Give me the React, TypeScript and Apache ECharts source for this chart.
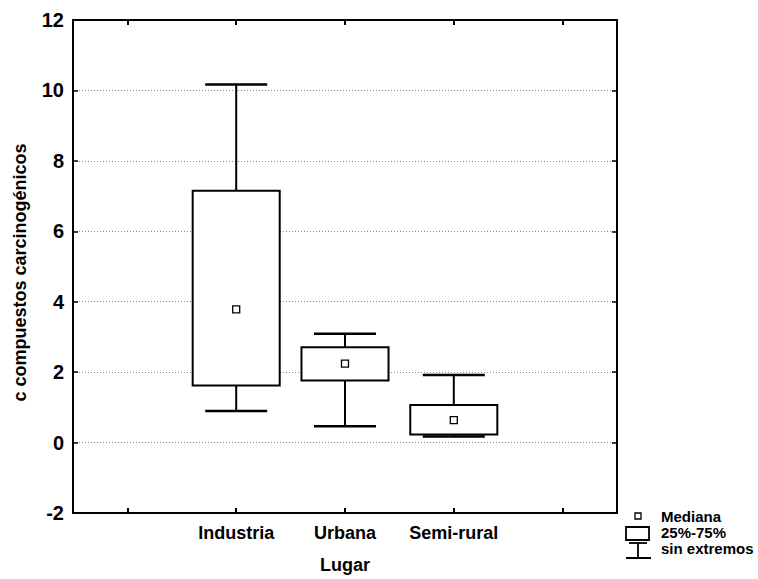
import React, { useEffect, useRef } from "react";
import * as echarts from "echarts";

// Sampling sites and box statistics (min, Q1, median, Q3, max)
const sites = ["Industria", "Urbana", "Semi-rural"];
const whiskerLow = [0.9, 0.46, 0.17];
const quartile1 = [1.62, 1.76, 0.23];
const medians = [3.78, 2.24, 0.64];
const quartile3 = [7.15, 2.71, 1.07];
const whiskerHigh = [10.17, 3.09, 1.92];

// The category axis has an empty slot on each side of the sites
const axisCategories = ["", ...sites, ""];
const yTicks = { min: -2, max: 12, step: 2 };

const legendLabels = ["Mediana", "25%-75%", "sin extremos"];

const FONT = '"Liberation Sans", Arial, Helvetica, sans-serif';

export default function App() {
  const ref = useRef<HTMLDivElement>(null);

  useEffect(() => {
    if (!ref.current) return;
    const chart = echarts.init(ref.current, null, { renderer: "svg" });

    const boxData = sites.map((s, i) => [
      axisCategories.indexOf(s),
      whiskerLow[i],
      quartile1[i],
      medians[i],
      quartile3[i],
      whiskerHigh[i],
    ]);

    const stroke = { stroke: "#000", lineWidth: 2, fill: "none" };

    const option: any = {
      animation: false,
      backgroundColor: "#fff",
      textStyle: { fontFamily: FONT },
      grid: { left: 73, top: 20, right: 141, bottom: 60, containLabel: false },
      xAxis: [
        {
          type: "category",
          data: axisCategories,
          boundaryGap: true,
          name: "Lugar",
          nameLocation: "middle",
          nameGap: 43,
          nameTextStyle: { fontFamily: FONT, fontSize: 18, fontWeight: "bold", color: "#000" },
          axisLine: { show: true, onZero: false, lineStyle: { color: "#000", width: 2 } },
          axisTick: { show: true, inside: true, alignWithLabel: true, length: 5, lineStyle: { color: "#000", width: 2 } },
          axisLabel: { show: true, interval: 0, margin: 11, fontFamily: FONT, fontSize: 18, fontWeight: "bold", color: "#000" },
          splitLine: { show: false },
        },
        {
          type: "category",
          data: axisCategories,
          position: "top",
          boundaryGap: true,
          axisLine: { show: true, onZero: false, lineStyle: { color: "#000", width: 2 } },
          axisTick: { show: true, inside: true, alignWithLabel: true, length: 5, lineStyle: { color: "#000", width: 2 } },
          axisLabel: { show: false },
          splitLine: { show: false },
        },
      ],
      yAxis: [
        {
          type: "value",
          min: yTicks.min,
          max: yTicks.max,
          interval: yTicks.step,
          name: "c compuestos carcinogénicos",
          nameLocation: "middle",
          nameGap: 44,
          nameTextStyle: { fontFamily: FONT, fontSize: 18, fontWeight: "bold", color: "#000", padding: [0, 12, 0, 0] },
          axisLine: { show: true, lineStyle: { color: "#000", width: 2 } },
          axisTick: { show: true, inside: true, length: 5, lineStyle: { color: "#000", width: 1.5 } },
          axisLabel: { margin: 9, fontFamily: FONT, fontSize: 20, fontWeight: "bold", color: "#000" },
          splitLine: { show: true, lineStyle: { color: "#8a8a8a", width: 1, type: [1, 2] } },
        },
        {
          type: "value",
          position: "right",
          min: yTicks.min,
          max: yTicks.max,
          interval: yTicks.step,
          axisLine: { show: true, lineStyle: { color: "#000", width: 2 } },
          axisTick: { show: true, inside: true, length: 5, lineStyle: { color: "#000", width: 1.5 } },
          axisLabel: { show: false },
          splitLine: { show: false },
        },
      ],
      series: [
        {
          type: "custom",
          xAxisIndex: 0,
          yAxisIndex: 0,
          data: boxData,
          encode: { x: 0, y: [1, 2, 3, 4, 5] },
          renderItem: (_params: any, api: any) => {
            const idx = api.value(0);
            const lo = api.value(1);
            const q1 = api.value(2);
            const med = api.value(3);
            const q3 = api.value(4);
            const hi = api.value(5);
            const band = api.size([1, 0])[0];
            const boxW = band * 0.8;
            const capW = band * 0.57;
            const pLo = api.coord([idx, lo]);
            const pQ1 = api.coord([idx, q1]);
            const pMed = api.coord([idx, med]);
            const pQ3 = api.coord([idx, q3]);
            const pHi = api.coord([idx, hi]);
            const cx = pMed[0];
            const m = 7;
            return {
              type: "group",
              children: [
                { type: "line", shape: { x1: cx, y1: pHi[1], x2: cx, y2: pQ3[1] }, style: stroke },
                { type: "line", shape: { x1: cx, y1: pQ1[1], x2: cx, y2: pLo[1] }, style: stroke },
                { type: "line", shape: { x1: cx - capW / 2, y1: pHi[1], x2: cx + capW / 2, y2: pHi[1] }, style: { ...stroke, lineWidth: 2.5 } },
                { type: "line", shape: { x1: cx - capW / 2, y1: pLo[1], x2: cx + capW / 2, y2: pLo[1] }, style: { ...stroke, lineWidth: 2.5 } },
                {
                  type: "rect",
                  shape: { x: cx - boxW / 2, y: pQ3[1], width: boxW, height: pQ1[1] - pQ3[1] },
                  style: { stroke: "#000", lineWidth: 2, fill: "#fff" },
                },
                {
                  type: "rect",
                  shape: { x: cx - m / 2, y: pMed[1] - m / 2, width: m, height: m },
                  style: { stroke: "#000", lineWidth: 1.3, fill: "#fff" },
                },
              ],
            };
          },
        },
      ],
      graphic: [
        // Legend: median marker, box, whisker
        { type: "rect", shape: { x: 635, y: 513, width: 6, height: 6 }, style: { stroke: "#000", lineWidth: 1.3, fill: "#fff" } },
        { type: "text", x: 661, y: 516, style: { text: legendLabels[0], font: `bold 15px ${FONT}`, fill: "#000", textVerticalAlign: "middle" } },
        { type: "rect", shape: { x: 626, y: 527, width: 23, height: 13 }, style: { stroke: "#000", lineWidth: 1.8, fill: "#fff" } },
        { type: "text", x: 661, y: 532, style: { text: legendLabels[1], font: `bold 15px ${FONT}`, fill: "#000", textVerticalAlign: "middle" } },
        { type: "line", shape: { x1: 629, y1: 543, x2: 647, y2: 543 }, style: { stroke: "#000", lineWidth: 1.8 } },
        { type: "line", shape: { x1: 638, y1: 543, x2: 638, y2: 558 }, style: { stroke: "#000", lineWidth: 1.8 } },
        { type: "line", shape: { x1: 626, y1: 558, x2: 651, y2: 558 }, style: { stroke: "#000", lineWidth: 2 } },
        { type: "text", x: 661, y: 548, style: { text: legendLabels[2], font: `bold 15px ${FONT}`, fill: "#000", textVerticalAlign: "middle" } },
      ],
    };

    chart.setOption(option);
    return () => chart.dispose();
  }, []);

  return <div ref={ref} style={{ width: 758, height: 579, position: "absolute", left: 0, top: 0 }} />;
}
